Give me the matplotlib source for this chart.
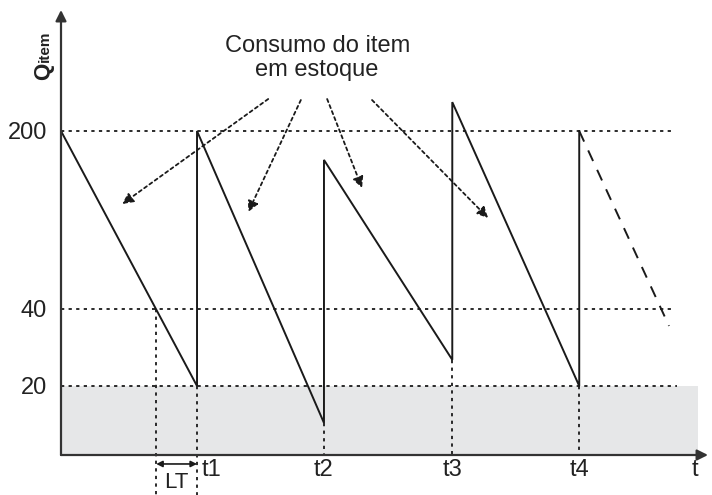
import numpy as np
import matplotlib
matplotlib.use("Agg")
import matplotlib.pyplot as plt

plt.rcParams['font.family'] = ['Liberation Sans', 'DejaVu Sans']

# schematic stock levels (the drawing is not to scale on the y axis)
level_ticks = [20, 40, 200]
level_labels = ['20', '40', '200']
# real level -> drawing height (px above the time axis)
scale_real = [-50, 0, 20, 40, 200, 400]
scale_draw = [-172.5, 0, 69, 146, 324, 546]

# sawtooth: order times (days) and stock just before / after each refill
t_orders = [30, 58, 86.3, 114.3]
t_labels = ['t1', 't2', 't3', 't4']
q_start = 200
q_low = [20, 9.3, 26.8, 20]
q_high = [200, 174, 226, 200]
# projected consumption after t4
t_proj = [114.3, 134.1]
q_proj = [200, 35.6]
# time the stock reaches the reorder point (40) in the first cycle
t_reorder = 21.0

# annotation arrows "Consumo do item em estoque" (start -> end)
arrow_start = [(45.7, 228.8), (52.9, 227.9), (58.7, 228.8), (68.6, 227.9)]
arrow_end = [(13.5, 134.4), (41.3, 127.2), (66.4, 148.8), (94.2, 121.8)]


def fwd(y):
    return np.interp(y, scale_real, scale_draw)


def inv(y):
    return np.interp(y, scale_draw, scale_real)


fig = plt.figure(figsize=(7.12, 4.95), dpi=100)
ax = fig.add_axes([61 / 712, 40 / 495, 647 / 712, 445 / 495])
ax.set_yscale('function', functions=(fwd, inv))
ax.set_xlim(0, 142.7)
ax.set_ylim(0, 309)
for s in ax.spines.values():
    s.set_visible(False)

line_col = '#1a1a1a'
txt_col = '#222222'
dot = (0, (1.8, 2.4))

# safety stock area
ax.fill_between([0, 140.5], 0, 20, color='#e6e7e8', lw=0, zorder=0)

# horizontal reference lines
ax.plot([0, 134.8], [200, 200], color=line_col, lw=1.3, ls=dot)
ax.plot([0, 134.8], [40, 40], color=line_col, lw=1.3, ls=dot)
ax.plot([0, 135.9], [20, 20], color=line_col, lw=1.3, ls=dot)

# sawtooth
xs = [0]
ys = [q_start]
for t, lo, hi in zip(t_orders, q_low, q_high):
    xs += [t, t]
    ys += [lo, hi]
ax.plot(xs, ys, color=line_col, lw=1.4, solid_joinstyle='miter')
ax.plot(t_proj, q_proj, color=line_col, lw=1.4, ls=(0, (6, 5)))

# vertical dotted lines
bottom = -11.6
ax.plot([t_reorder, t_reorder], [40, bottom], color=line_col, lw=1.3, ls=dot, clip_on=False)
ax.plot([t_orders[0], t_orders[0]], [q_low[0], bottom], color=line_col, lw=1.3, ls=dot, clip_on=False)
for t, lo in zip(t_orders[1:], q_low[1:]):
    ax.plot([t, t], [lo, 0], color=line_col, lw=1.3, ls=dot)

# axes with arrow heads
ax.annotate('', xy=(0, 1), xytext=(0, 0), xycoords='axes fraction',
            arrowprops=dict(arrowstyle='-|>', lw=1.6, color='#333333',
                            mutation_scale=16, shrinkA=0, shrinkB=0))
ax.annotate('', xy=(1, 0), xytext=(0, 0), xycoords='axes fraction',
            arrowprops=dict(arrowstyle='-|>', lw=1.6, color='#333333',
                            mutation_scale=16, shrinkA=0, shrinkB=0))

# y ticks
ax.set_yticks(level_ticks)
ax.set_yticklabels(level_labels, fontfamily='Liberation Sans', fontsize=17, color=txt_col)
ax.set_xticks([])
ax.tick_params(axis='y', length=0, pad=10)

# x labels
lab_y = -4.35
ax.text(33.3, lab_y, t_labels[0], ha='center', va='center', fontsize=17, color=txt_col)
for t, lab in zip(t_orders[1:], t_labels[1:]):
    ax.text(t, lab_y, lab, ha='center', va='center', fontsize=17, color=txt_col)
ax.text(139.9, lab_y, 't', ha='center', va='center', fontsize=17, color=txt_col)

# lead time
ax.annotate('', xy=(t_orders[0], -2.6), xytext=(t_reorder, -2.6),
            arrowprops=dict(arrowstyle='<|-|>', lw=1.2, color=line_col,
                            mutation_scale=9, shrinkA=0, shrinkB=0),
            annotation_clip=False)
ax.text(25.4, -8.0, 'LT', ha='center', va='center', fontsize=16, color=txt_col, clip_on=False)

# y axis label
ax.text(-0.027, 0.862, 'Q', transform=ax.transAxes, rotation=90, ha='center', va='center',
        fontsize=16, fontweight='bold', color=txt_col)
ax.text(-0.025, 0.918, 'item', transform=ax.transAxes, rotation=90, ha='center', va='center',
        fontsize=11, fontweight='bold', color=txt_col)

# annotation
ax.text(56.5, 265.8, 'Consumo do item\nem estoque', ha='center', va='center',
        fontsize=17, color=txt_col, linespacing=1.1)
for (x0, y0), (x1, y1) in zip(arrow_start, arrow_end):
    ax.annotate('', xy=(x1, y1), xytext=(x0, y0),
                arrowprops=dict(arrowstyle='-|>', lw=1.3, color=line_col, ls=(0, (1.8, 1.8)),
                                mutation_scale=16, shrinkA=0, shrinkB=0))

plt.savefig('out.png', dpi=100)
